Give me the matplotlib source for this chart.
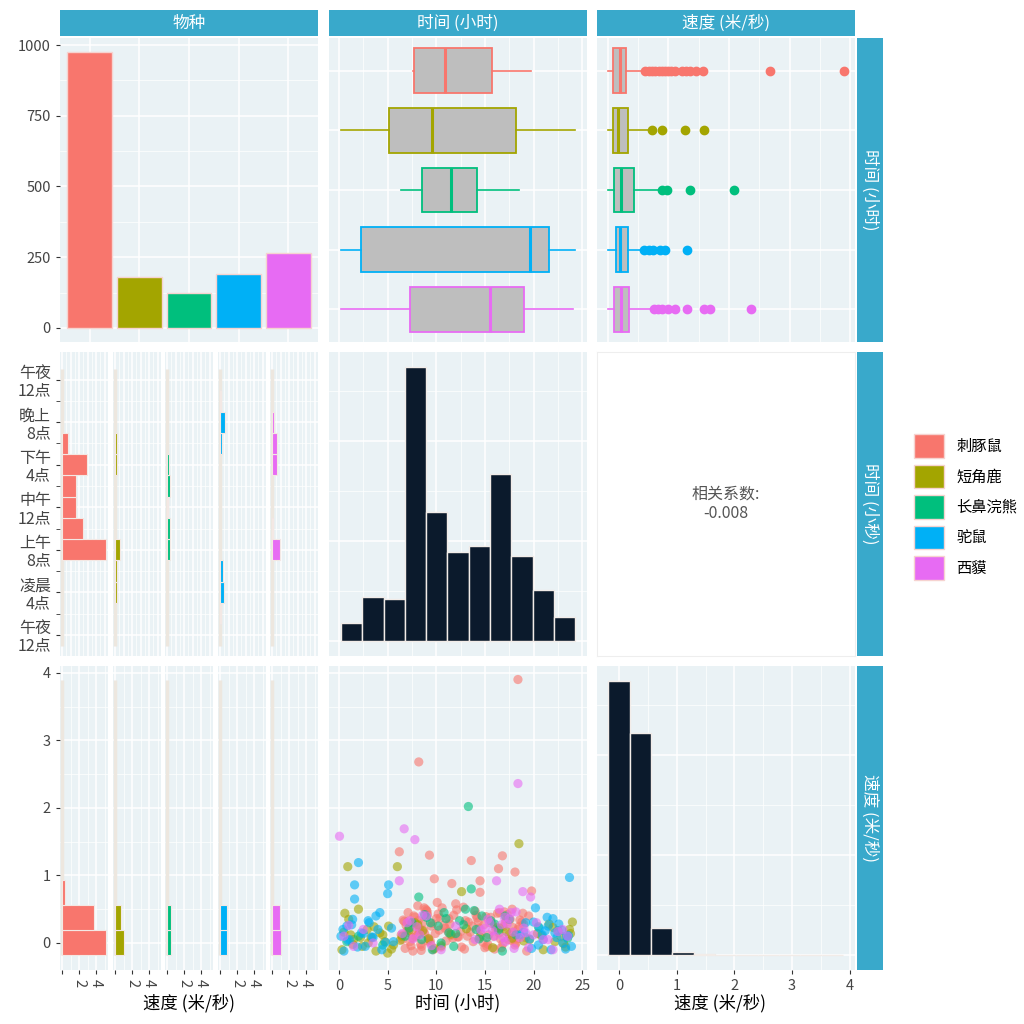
import matplotlib

matplotlib.use("Agg")
import matplotlib.pyplot as plt
from matplotlib.patches import Patch
import numpy as np

plt.rcParams["font.family"] = ["Noto Sans CJK SC", "DejaVu Sans"]

SPECIES = ["刺豚鼠", "短角鹿", "长鼻浣熊", "驼鼠", "西貘"]
COLORS = ["#F8766D", "#A3A500", "#00BF7D", "#00B0F6", "#E76BF3"]
COUNTS = [975, 180, 125, 190, 265]

# time boxplots (hours): whisker lo, q1, median, q3, whisker hi
TIME_BOX = [
    (7.6, 7.7, 10.9, 15.7, 19.7),
    (0.2, 5.1, 9.6, 18.2, 24.3),
    (6.4, 8.5, 11.5, 14.2, 18.5),
    (0.2, 2.3, 19.6, 21.6, 24.3),
    (0.2, 7.3, 15.5, 19.0, 24.1),
]
# speed boxplots (m/s) and outliers
SPEED_BOX = [
    (0.0, 0.08, 0.2, 0.3, 0.58),
    (0.0, 0.08, 0.17, 0.34, 0.7),
    (0.0, 0.1, 0.21, 0.43, 0.85),
    (0.0, 0.13, 0.2, 0.33, 0.57),
    (0.0, 0.1, 0.21, 0.35, 0.7),
]
SPEED_OUT = [
    [0.62, 0.68, 0.72, 0.78, 0.85, 0.9, 0.95, 1.0, 1.05, 1.1, 1.22, 1.29, 1.35, 1.45, 1.57, 2.68, 3.9],
    [0.72, 0.9, 1.27, 1.58],
    [0.9, 0.97, 1.36, 2.08],
    [0.6, 0.68, 0.75, 0.86, 0.95, 1.3],
    [0.76, 0.82, 0.9, 1.0, 1.1, 1.3, 1.58, 1.69, 2.36],
]

# time histogram (all species)
TIME_EDGES = [0.2, 2.39, 4.58, 6.77, 8.96, 11.15, 13.34, 15.53, 17.72, 19.91, 22.1, 24.29]
TIME_COUNTS = [18, 44, 42, 274, 129, 89, 95, 167, 85, 51, 24]

# speed histogram (all species)
SPEED_CENTERS = [0.0, 0.37, 0.74, 1.11, 1.48, 1.85, 2.22, 2.59, 2.96, 3.33, 3.7]
SPEED_COUNTS = [274, 222, 27, 3, 1, 0.4, 0.4, 0.4, 0.3, 0.3, 0.3]

# per-species time histograms (bin centre hours -> count scale)
TIME_HIST_SP = [
    ([8, 10, 12, 14, 16, 18], [5.2, 2.5, 1.6, 1.65, 2.9, 0.7]),
    ([4, 6, 8, 16, 18], [0.2, 0.2, 0.55, 0.2, 0.2]),
    ([8, 10, 12, 14, 16], [0.3, 0.3, 0.1, 0.3, 0.25]),
    ([2, 4, 6, 18, 20, 22], [0.1, 0.45, 0.35, 0.25, 0.6, 0.1]),
    ([8, 10, 16, 18, 20], [0.9, 0.05, 0.6, 0.55, 0.2]),
]
# per-species speed histograms
SPEED_HIST_SP = [
    ([0.0, 0.37, 0.74], [5.2, 3.8, 0.35]),
    ([0.0, 0.37], [1.0, 0.75]),
    ([0.0, 0.37], [0.4, 0.4]),
    ([0.0, 0.37], [0.8, 0.8]),
    ([0.0, 0.37], [1.1, 0.9]),
]

# scatter points: time (h), speed (m/s)
SC_T = [
    [6.2, 6.5, 6.7, 6.8, 7.0, 7.1, 7.3, 7.5, 7.6, 7.8, 8.0, 8.1, 8.2, 8.3, 8.5, 8.6, 8.8, 9.0, 9.2, 9.3, 9.5, 9.7,
     9.8, 10.0, 10.3, 10.6, 11.0, 11.4, 11.6, 11.8, 12.2, 12.6, 13.0, 13.5, 13.6, 14.0, 14.4, 14.5, 14.5, 14.8,
     15.1, 15.4, 15.7, 16.0, 16.3, 16.4, 16.6, 16.8, 16.9, 17.2, 17.5, 17.8, 18.1, 18.1, 18.4, 18.4, 18.8, 19.2,
     19.5, 19.8, 7.2, 8.4, 9.1, 10.8, 12.0, 13.2, 14.2, 15.0, 16.2, 17.0, 17.7, 18.6, 11.2, 12.8, 10.1, 9.4,
     6.4, 6.9, 7.4, 7.7, 7.9, 8.15, 8.45, 8.7, 8.9, 9.15, 9.6, 9.9, 10.2, 10.5, 10.9, 11.3, 11.7, 12.1, 12.5,
     12.9, 13.3, 13.8, 14.1, 14.6, 14.9, 15.3, 15.6, 15.9, 16.1, 16.5, 16.7, 17.1, 17.4, 17.6, 17.9, 18.2,
     18.5, 18.9, 19.3, 7.05, 7.55, 8.25, 8.75, 9.35, 10.4, 11.5, 13.7, 15.2, 16.45, 17.3, 18.3, 19.0, 6.6,
     8.05, 9.05, 12.3, 14.3, 16.85, 17.85],
    [0.3, 0.6, 0.9, 1.2, 1.5, 2.0, 2.4, 2.9, 3.3, 3.8, 4.2, 4.7, 5.1, 5.6, 6.0, 6.5, 7.8, 8.6, 9.8, 12.6, 16.5,
     18.5, 19.6, 20.4, 21.0, 21.6, 22.2, 22.8, 23.3, 23.7, 24.0, 1.0, 3.0, 5.0, 17.8,
     0.5, 1.4, 2.2, 3.6, 4.5, 5.4, 6.3, 7.2, 8.1, 9.2, 10.5, 11.5, 13.1, 14.5, 15.8, 17.2, 19.0, 20.8, 22.0,
     23.1, 23.8],
    [6.8, 7.5, 8.2, 8.5, 9.0, 9.6, 10.2, 10.8, 11.3, 11.8, 12.4, 13.0, 13.3, 13.6, 14.1, 14.7, 15.2, 16.0,
     16.8, 17.5, 18.2, 0.8, 22.5, 7.2, 8.8, 9.4, 10.5, 11.0, 12.0, 12.8, 13.9, 14.4, 15.6, 16.4, 17.1, 2.0,
     4.5, 20.5, 23.5],
    [0.2, 0.5, 0.8, 1.1, 1.4, 1.6, 1.6, 2.0, 2.3, 2.7, 3.1, 3.5, 4.0, 4.4, 5.0, 5.1, 5.6, 18.6, 19.2, 19.8,
     20.2, 20.6, 21.0, 21.4, 21.8, 22.2, 22.6, 23.0, 23.4, 23.7, 23.9, 3.8, 21.2,
     0.4, 0.9, 1.3, 1.9, 2.5, 3.0, 3.4, 4.2, 4.8, 5.4, 19.0, 19.6, 20.0, 20.5, 20.9, 21.5, 22.0, 22.4, 22.9,
     23.3, 23.6],
    [0.05, 0.5, 1.5, 2.5, 6.2, 6.7, 7.0, 7.8, 8.3, 9.0, 10.5, 12.0, 14.0, 15.3, 15.8, 16.2, 16.5, 16.9, 17.3,
     17.7, 18.0, 18.4, 18.9, 19.2, 19.7, 20.3, 21.0, 22.0, 23.0, 23.5, 15.0, 17.0,
     6.5, 7.3, 7.6, 8.0, 8.6, 9.5, 14.6, 15.5, 16.0, 16.7, 17.1, 17.5, 17.9, 18.2, 18.6, 19.0, 19.5, 20.0,
     21.5, 22.5, 1.0, 3.5],
]
SC_S = [
    [1.35, 0.05, 0.32, -0.08, 0.18, 0.45, 0.02, 0.27, -0.12, 0.38, 0.11, 0.55, 2.68, 0.21, -0.05, 0.30, 0.14,
     0.48, 0.07, 1.3, 0.25, -0.10, 0.95, 0.36, 0.19, 0.52, 0.03, 0.28, 0.88, 0.41, 0.09, -0.06, 0.33, 0.16,
     1.22, 0.47, 0.22, 0.92, 0.75, 0.01, 0.39, 0.12, 0.29, -0.09, 0.44, 1.1, 0.06, 1.29, 0.24, 0.35, 0.13,
     0.50, 1.05, -0.03, 3.9, 0.20, 0.31, 0.08, 0.4, 0.77, 0.15, -0.02, 0.42, 0.26, 0.58, 0.10, 0.37, -0.07,
     0.23, 0.46, 0.04, 0.34, 0.17, 0.53, 0.6, 0.0,
     0.12, 0.26, -0.04, 0.4, 0.09, 0.33, -0.11, 0.19, 0.5, 0.03, 0.29, 0.14, 0.43, -0.06, 0.22, 0.36, 0.07,
     0.49, 0.17, -0.09, 0.31, 0.02, 0.41, 0.13, 0.27, -0.02, 0.38, 0.1, 0.21, 0.45, -0.07, 0.3, 0.05, 0.35,
     0.16, 0.0, 0.24, 0.44, -0.12, 0.32, 0.08, 0.18, 0.52, 0.04, 0.37, 0.11, 0.25, -0.05, 0.15, 0.42, 0.06,
     0.28, 0.34, 0.2, 0.47, 0.09, 0.31, -0.01, 0.23],
    [-0.1, 0.44, 1.13, 0.12, 0.05, 0.5, -0.05, 0.2, 0.08, -0.12, 0.15, 0.02, 0.25, -0.03, 1.13, 0.1, 0.3,
     0.18, -0.08, 0.76, 0.22, 1.47, 0.05, 0.14, -0.1, 0.28, 0.02, 0.1, -0.06, 0.2, 0.31, 0.35, 0.0, -0.15, 0.07,
     0.16, -0.02, 0.08, 0.24, 0.12, -0.09, 0.04, 0.19, 0.27, 0.06, -0.04, 0.13, 0.21, 0.09, -0.07, 0.17,
     0.03, 0.11, 0.23, -0.01, 0.14],
    [0.1, 0.3, 0.68, 0.05, 0.38, -0.1, 0.25, 0.45, 0.15, -0.05, 0.33, 0.5, 2.02, 0.8, 0.2, 0.4, 0.08, 0.28,
     -0.12, 0.35, 0.12, 0.02, 0.18, 0.22, 0.42, 0.3, 0.0, 0.36, 0.14, 0.27, 0.48, 0.06, 0.33, 0.19, 0.4, 0.1,
     -0.03, 0.24, 0.07],
    [0.1, -0.12, 0.25, 0.05, 0.35, 0.86, 0.65, 1.19, 0.15, -0.05, 0.3, 0.08, 0.2, -0.1, 0.73, 0.86, 0.02,
     0.12, 0.3, -0.08, 0.52, 0.22, 0.05, 0.38, -0.1, 0.15, 0.28, 0.0, 0.1, 0.97, -0.05, 0.4, 0.18,
     0.2, 0.04, 0.27, -0.06, 0.14, 0.33, 0.09, 0.45, 0.01, 0.22, 0.16, 0.06, 0.31, -0.03, 0.12, 0.25, 0.36,
     0.08, 0.19, -0.09, 0.11],
    [1.58, 0.1, -0.05, 0.2, 0.92, 1.69, 0.3, 1.53, 0.12, 0.4, -0.1, 0.25, 0.05, 0.35, 0.18, 0.92, 0.5, 0.08,
     0.28, 0.45, -0.08, 2.36, 0.76, 0.15, 0.68, 0.3, 0.05, -0.1, 0.2, 0.1, 0.22, 0.38,
     0.14, 0.33, 0.06, 0.24, 0.41, -0.04, 0.19, 0.3, 0.1, 0.27, 0.02, 0.36, 0.16, 0.46, 0.08, 0.22, -0.07,
     0.12, 0.05, 0.17, 0.26, 0.0],
]

W = H = 1024
PANEL_BG = "#EAF2F5"
STRIP = "#39A9CB"
BEIGE = "#EDE7DF"
fig = plt.figure(figsize=(W / 100, H / 100), dpi=100)

COLS = [(60, 318), (329, 587), (597, 855)]
ROWS = [(38, 342), (352, 656), (666, 970)]


def ax_at(x0, y0, x1, y1):
    return fig.add_axes([x0 / W, 1 - y1 / H, (x1 - x0) / W, (y1 - y0) / H])


def style(ax, bg=PANEL_BG):
    ax.set_facecolor(bg)
    for s in ax.spines.values():
        s.set_visible(False)
    ax.set_axisbelow(True)
    ax.grid(True, which="major", color="white", lw=1.1)
    ax.grid(True, which="minor", color="white", lw=0.5)
    ax.tick_params(which="both", length=3, color="#333333", labelsize=10.5, labelcolor="#444444")
    ax.tick_params(which="minor", length=0)


def no_ticks(ax, x=True, y=True):
    if x:
        ax.tick_params(axis="x", which="both", bottom=False, labelbottom=False)
    if y:
        ax.tick_params(axis="y", which="both", left=False, labelleft=False)


def style_boxes(bp, with_fliers=False):
    for i, c in enumerate(COLORS):
        bp["boxes"][i].set(facecolor="#BEBEBE", edgecolor=c, lw=1.3)
        bp["medians"][i].set(color=c, lw=2.2)
        for w in bp["whiskers"][2 * i:2 * i + 2]:
            w.set(color=c, lw=1.2)
        for cap in bp["caps"][2 * i:2 * i + 2]:
            cap.set_visible(False)
        if with_fliers:
            bp["fliers"][i].set(marker="o", markerfacecolor=c, markeredgecolor=c, markersize=6)


TIME_LIM = (-1.03, 25.5)
pos = [5, 4, 3, 2, 1]

# ---- row 1 ----
ax = ax_at(COLS[0][0], ROWS[0][0], COLS[0][1], ROWS[0][1])
style(ax)
ax.bar(range(1, 6), COUNTS, width=0.9, color=COLORS, edgecolor="#F6D3D0", lw=1)
ax.set_xlim(0.4, 5.6)
ax.set_ylim(-50, 1025)
ax.set_xticks(range(1, 6))
ax.set_yticks([0, 250, 500, 750, 1000])
ax.set_yticks([125, 375, 625, 875], minor=True)
no_ticks(ax, y=False)

ax = ax_at(COLS[1][0], ROWS[0][0], COLS[1][1], ROWS[0][1])
style(ax)
stats = [dict(whislo=b[0], q1=b[1], med=b[2], q3=b[3], whishi=b[4], fliers=[]) for b in TIME_BOX]
bp = ax.bxp(stats, positions=pos, widths=0.75, vert=False, patch_artist=True, showfliers=False)
style_boxes(bp)
ax.set_xlim(*TIME_LIM)
ax.set_ylim(0.45, 5.55)
ax.set_xticks([0, 5, 10, 15, 20, 25])
ax.set_xticks([2.5, 7.5, 12.5, 17.5, 22.5], minor=True)
ax.set_yticks(pos)
no_ticks(ax)

ax = ax_at(COLS[2][0], ROWS[0][0], COLS[2][1], ROWS[0][1])
style(ax)
stats = [dict(whislo=b[0], q1=b[1], med=b[2], q3=b[3], whishi=b[4], fliers=f)
         for b, f in zip(SPEED_BOX, SPEED_OUT)]
bp = ax.bxp(stats, positions=pos, widths=0.75, vert=False, patch_artist=True)
style_boxes(bp, with_fliers=True)
ax.set_xlim(-0.18, 4.08)
ax.set_ylim(0.45, 5.55)
ax.set_xticks([0, 1, 2, 3, 4])
ax.set_xticks([0.5, 1.5, 2.5, 3.5], minor=True)
ax.set_yticks(pos)
no_ticks(ax)

# ---- row 2 ----
SUBS = [(60, 108), (113, 161), (165, 213), (218, 266), (270, 318)]
TLAB = ["午夜\n12点", "凌晨\n4点", "上午\n8点", "中午\n12点", "下午\n4点", "晚上\n8点", "午夜\n12点"]
for k, (x0, x1) in enumerate(SUBS):
    ax = ax_at(x0, ROWS[1][0], x1, ROWS[1][1])
    style(ax)
    ax.vlines(0, -1, 25, color=BEIGE, lw=2.5, zorder=1)
    cen, val = TIME_HIST_SP[k]
    ax.barh(cen, val, height=2, left=0, color=COLORS[k], edgecolor="#F3E8E4", lw=0.8, zorder=2)
    ax.set_xlim(-0.25, 5.4)
    ax.set_ylim(-1.98, 26.6)
    ax.set_xticks([0, 1, 2, 3, 4, 5])
    ax.set_xticks(np.arange(0.5, 5.5, 1.0), minor=True)
    ax.set_yticks([0, 4, 8, 12, 16, 20, 24])
    ax.set_yticks([2, 6, 10, 14, 18, 22], minor=True)
    no_ticks(ax, y=(k > 0))
    if k == 0:
        ax.set_yticklabels(TLAB, linespacing=1.05, fontsize=11.5)
        ax.tick_params(axis="y", which="minor", length=3, left=True)

ax = ax_at(COLS[1][0], ROWS[1][0], COLS[1][1], ROWS[1][1])
style(ax)
widths = np.diff(TIME_EDGES)
ax.bar(TIME_EDGES[:-1], TIME_COUNTS, width=widths, align="edge", color="#0B1A2C", edgecolor="#F2ECE8", lw=1)
ax.set_xlim(*TIME_LIM)
ax.set_ylim(-15, 289)
ax.set_xticks([0, 5, 10, 15, 20, 25])
ax.set_xticks([2.5, 7.5, 12.5, 17.5, 22.5], minor=True)
ax.set_yticks([0, 100, 200])
ax.set_yticks([50, 150, 250], minor=True)
no_ticks(ax)

ax = ax_at(COLS[2][0], ROWS[1][0], COLS[2][1], ROWS[1][1])
ax.set_facecolor("white")
for s in ax.spines.values():
    s.set_color("#EEEEEE")
no_ticks(ax)
ax.text(0.5, 0.5, "相关系数:\n-0.008", ha="center", va="center", fontsize=11.5, color="#555555",
        transform=ax.transAxes, linespacing=1.2)

# ---- row 3 ----
for k, (x0, x1) in enumerate(SUBS):
    ax = ax_at(x0, ROWS[2][0], x1, ROWS[2][1])
    style(ax)
    ax.vlines(0, -0.18, 3.9, color=BEIGE, lw=2.5, zorder=1)
    cen, val = SPEED_HIST_SP[k]
    ax.barh(cen, val, height=0.37, left=0, color=COLORS[k], edgecolor="#F3E8E4", lw=0.8, zorder=2)
    ax.set_xlim(-0.25, 5.4)
    ax.set_ylim(-0.4, 4.1)
    ax.set_xticks([0, 2, 4])
    ax.set_xticklabels(["", "2", "4"], rotation=-90)
    ax.set_xticks([1, 3, 5], minor=True)
    ax.set_yticks([0, 1, 2, 3, 4])
    ax.set_yticks([0.5, 1.5, 2.5, 3.5], minor=True)
    if k > 0:
        ax.tick_params(axis="y", which="both", left=False, labelleft=False)
fig.text(189 / W, 1 - 1003 / H, "速度 (米/秒)", ha="center", va="center", fontsize=12.5)

ax = ax_at(COLS[1][0], ROWS[2][0], COLS[1][1], ROWS[2][1])
style(ax)
for t, s, c in zip(SC_T, SC_S, COLORS):
    n = min(len(t), len(s))
    ax.scatter(t[:n], s[:n], s=44, color=c, alpha=0.6, edgecolors="none")
ax.set_xlim(*TIME_LIM)
ax.set_ylim(-0.4, 4.1)
ax.set_xticks([0, 5, 10, 15, 20, 25])
ax.set_xticks([2.5, 7.5, 12.5, 17.5, 22.5], minor=True)
ax.set_yticks([0, 1, 2, 3, 4])
ax.set_yticks([0.5, 1.5, 2.5, 3.5], minor=True)
ax.tick_params(axis="y", which="both", left=False, labelleft=False)
fig.text(458 / W, 1 - 1003 / H, "时间 (小时)", ha="center", va="center", fontsize=12.5)

ax = ax_at(COLS[2][0], ROWS[2][0], COLS[2][1], ROWS[2][1])
style(ax)
ax.bar(SPEED_CENTERS, SPEED_COUNTS, width=0.37, color="#0B1A2C", edgecolor="#F2ECE8", lw=1)
ax.set_xlim(-0.38, 4.09)
ax.set_ylim(-15, 289)
ax.set_xticks([0, 1, 2, 3, 4])
ax.set_xticks([0.5, 1.5, 2.5, 3.5], minor=True)
ax.set_yticks([0, 100, 200])
ax.set_yticks([50, 150, 250], minor=True)
ax.tick_params(axis="y", which="both", left=False, labelleft=False)
fig.text(720 / W, 1 - 1003 / H, "速度 (米/秒)", ha="center", va="center", fontsize=12.5)

# ---- strips ----
for (x0, x1), lab in zip(COLS, ["物种", "时间 (小时)", "速度 (米/秒)"]):
    sa = ax_at(x0, 10, x1, 36)
    sa.set_facecolor(STRIP)
    no_ticks(sa)
    for s in sa.spines.values():
        s.set_visible(False)
    sa.text(0.5, 0.5, lab, color="white", ha="center", va="center", fontsize=12, transform=sa.transAxes)
for (y0, y1), lab in zip(ROWS, ["时间 (小时)", "时间 (小秒)", "速度 (米/秒)"]):
    sa = ax_at(857, y0, 883, y1)
    sa.set_facecolor(STRIP)
    no_ticks(sa)
    for s in sa.spines.values():
        s.set_visible(False)
    sa.text(0.5, 0.5, lab, color="white", ha="center", va="center", fontsize=12, rotation=-90,
            transform=sa.transAxes)

handles = [Patch(facecolor=c, edgecolor="#F6D3D0") for c in COLORS]
fig.legend(handles, SPECIES, loc="center left", bbox_to_anchor=(900 / W, 1 - 507 / H), frameon=False,
           fontsize=11, handlelength=2.0, handleheight=2.0, labelspacing=0.45, handletextpad=0.8)

fig.savefig("out.png", dpi=100)
